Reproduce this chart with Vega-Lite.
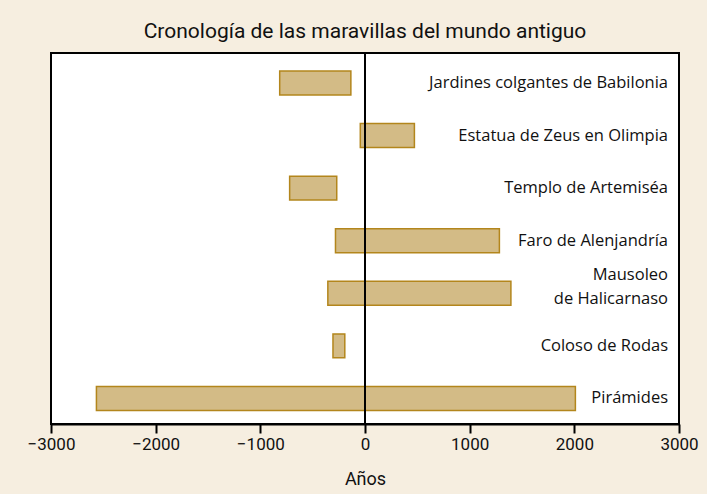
{
  "$schema": "https://vega.github.io/schema/vega-lite/v6.json",
  "autosize": "none",
  "width": 628,
  "height": 371,
  "padding": {"left": 51, "top": 53, "right": 28, "bottom": 70},
  "background": "#f6eee0",
  "title": {
    "text": "Cronología de las maravillas del mundo antiguo",
    "font": "Roboto",
    "fontSize": 21,
    "fontWeight": "normal",
    "color": "#111111",
    "offset": 10
  },
  "config": {
    "view": {"stroke": "#000000", "strokeWidth": 2, "fill": "#ffffff"},
    "font": "Roboto"
  },
  "data": {
    "values": [
      {"maravilla": "Jardines colgantes de Babilonia", "orden": 1, "inicio": -815, "fin": -135, "lineas": 1},
      {"maravilla": "Estatua de Zeus en Olimpia", "orden": 2, "inicio": -45, "fin": 472, "lineas": 1},
      {"maravilla": "Templo de Artemiséa", "orden": 3, "inicio": -720, "fin": -270, "lineas": 1},
      {"maravilla": "Faro de Alenjandría", "orden": 4, "inicio": -282, "fin": 1284, "lineas": 1},
      {"maravilla": "Mausoleo\nde Halicarnaso", "orden": 5, "inicio": -355, "fin": 1394, "lineas": 2},
      {"maravilla": "Coloso de Rodas", "orden": 6, "inicio": -306, "fin": -193, "lineas": 1},
      {"maravilla": "Pirámides", "orden": 7, "inicio": -2566, "fin": 2010, "lineas": 1}
    ]
  },
  "encoding": {
    "y": {
      "field": "orden",
      "type": "ordinal",
      "axis": null,
      "scale": {"paddingInner": 0.544, "paddingOuter": 0.3, "align": 0.57}
    }
  },
  "layer": [
    {
      "mark": {"type": "bar", "fill": "#d3bb86", "stroke": "#b3861c", "strokeWidth": 1.5},
      "encoding": {
        "x": {
          "field": "inicio",
          "type": "quantitative",
          "scale": {"domain": [-3000, 3000], "nice": false, "zero": false},
          "axis": {
            "title": "Años",
            "format": "d",
            "values": [-3000, -2000, -1000, 0, 1000, 2000, 3000],
            "grid": false,
            "domainColor": "#000000",
            "domainWidth": 2,
            "tickColor": "#000000",
            "tickWidth": 2,
            "tickSize": 9,
            "labelFont": "Roboto",
            "labelFontSize": 17,
            "labelColor": "#111111",
            "labelPadding": 3,
            "labelFlush": false,
            "titleFont": "Roboto",
            "titleFontSize": 18,
            "titleFontWeight": "normal",
            "titleColor": "#111111",
            "titlePadding": 18
          }
        },
        "x2": {"field": "fin"}
      }
    },
    {
      "mark": {"type": "rule", "color": "#000000", "strokeWidth": 2},
      "encoding": {"x": {"datum": 0, "type": "quantitative"}, "y": {"value": 0}, "y2": {"value": 371}}
    },
    {
      "transform": [{"filter": "datum.lineas == 1"}],
      "mark": {"type": "text", "align": "right", "baseline": "middle", "font": "Open Sans", "fontSize": 16.5, "color": "#111111"},
      "encoding": {
        "x": {"datum": 2895, "type": "quantitative"},
        "text": {"field": "maravilla"}
      }
    },
    {
      "transform": [{"filter": "datum.lineas == 2"}],
      "mark": {"type": "text", "align": "right", "baseline": "middle", "font": "Open Sans", "fontSize": 16.5, "color": "#111111", "lineBreak": "\n", "lineHeight": 24, "dy": -18},
      "encoding": {
        "x": {"datum": 2895, "type": "quantitative"},
        "text": {"field": "maravilla"}
      }
    }
  ]
}
